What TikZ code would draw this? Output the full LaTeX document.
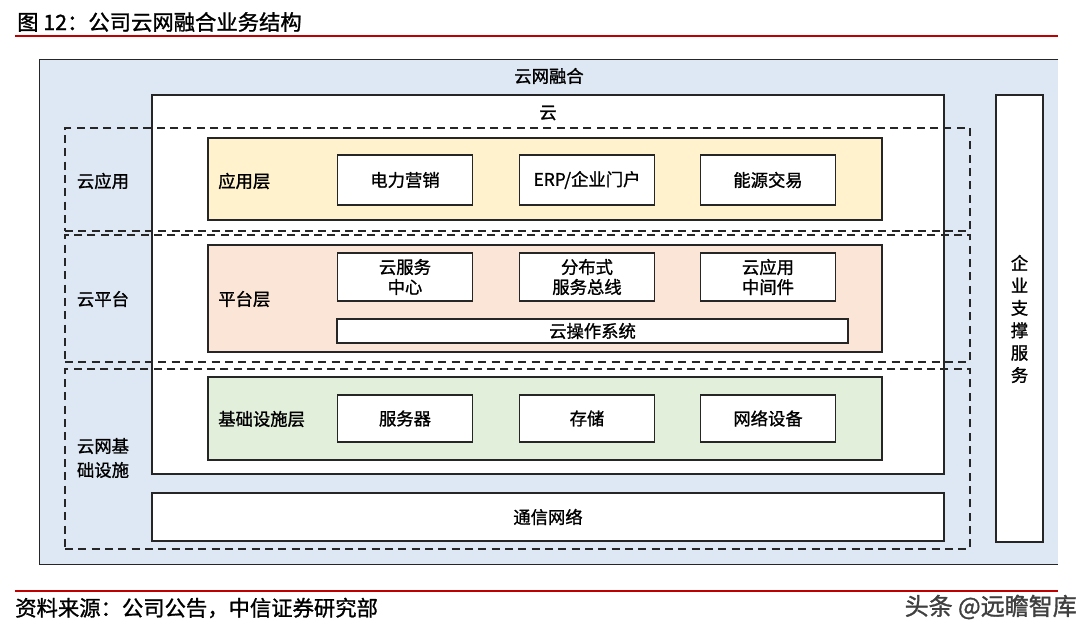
\documentclass[tikz,border=0pt]{standalone}
\usepackage{fontspec}
\newfontfamily\cjk[FakeBold=1.2]{Noto Sans CJK SC}
\definecolor{cloudblue}{HTML}{DEE8F4}
\definecolor{appyellow}{HTML}{FFF2CC}
\definecolor{platpeach}{HTML}{FBE5D6}
\definecolor{infragreen}{HTML}{E2EFDA}
\definecolor{linegray}{HTML}{262626}
\definecolor{titlered}{HTML}{C00000}
\begin{document}
\begin{tikzpicture}[x=0.75pt,y=-0.75pt]
    \tikzstyle{every node}=[inner sep=0pt,font=\cjk\fontsize{13}{15}\selectfont];
    \tikzstyle{frame}=[draw=linegray,line width=1.1pt];
    \tikzstyle{cell}=[frame,fill=white,minimum width=101.25pt];
    \tikzstyle{layer}=[frame,minimum width=505.5pt];
    \tikzstyle{zone}=[draw=linegray,line width=1.1pt,dash pattern=on 6pt off 4pt,minimum width=678.75pt];
    \tikzstyle{redline}=[draw=titlered,line width=1.6pt];
    \useasboundingbox (0,0) rectangle (1092,639);

    % title and rule
    \node at (17, 22) (title) [anchor=west,font=\cjk\fontsize{16}{18}\selectfont] {图 12：公司云网融合业务结构};
    \coordinate (tl) at (15, 36);
    \coordinate (tr) at (1058, 36);
    \draw[redline] (tl) -- (tr);

    % outer frame, open on the right
    \node at (549, 312) (outer) [fill=cloudblue,minimum width=763.5pt,minimum height=378pt] {};
    \draw[frame] (outer.north east) -- (outer.north west) -- (outer.south west) -- (outer.south east);
    \node at (549, 76) (net) {云网融合};

    % cloud
    \node at (548, 284.5) (cloud) [frame,fill=white,minimum width=594pt,minimum height=284.25pt] {};
    \node at (548, 113) (cloudtxt) {云};

    % dashed zones
    \node at (517.5, 179.5) (zapp)   [zone,minimum height=77.25pt] {};
    \node at (517.5, 298.5) (zplat)  [zone,minimum height=95.25pt] {};
    \node at (517.5, 459)   (zinfra) [zone,minimum height=135pt] {};
    \node at (103, 181) (lapp)   {云应用};
    \node at (103, 299) (lplat)  {云平台};
    \node at (103, 458) (linfra) [align=center,font=\cjk\fontsize{13}{18}\selectfont] {云网基\\础设施};

    % application layer
    \node at (545, 179) (app) [layer,fill=appyellow,minimum height=61.5pt] {};
    \node at (218, 181) (apptxt) [anchor=west] {应用层};
    \node at (405, 180) (a1) [cell,minimum height=37.5pt] {电力营销};
    \node at (587, 180) (a2) [cell,minimum height=37.5pt] {ERP/企业门户};
    \node at (768, 180) (a3) [cell,minimum height=37.5pt] {能源交易};

    % platform layer
    \node at (545, 298.5) (plat) [layer,fill=platpeach,minimum height=80.25pt] {};
    \node at (218, 299) (plattxt) [anchor=west] {平台层};
    \node at (405, 277) (p1) [cell,minimum height=36pt,align=center] {云服务\\中心};
    \node at (587, 277) (p2) [cell,minimum height=36pt,align=center] {分布式\\服务总线};
    \node at (768, 277) (p3) [cell,minimum height=36pt,align=center] {云应用\\中间件};
    \node at (592.5, 331) (os) [cell,minimum width=383.25pt,minimum height=18pt] {云操作系统};

    % infrastructure layer
    \node at (545, 418.5) (infra) [layer,fill=infragreen,minimum height=62.25pt] {};
    \node at (218, 419) (infratxt) [anchor=west] {基础设施层};
    \node at (405, 418.5) (i1) [cell,minimum height=35.25pt] {服务器};
    \node at (587, 418.5) (i2) [cell,minimum height=35.25pt] {存储};
    \node at (768, 418.5) (i3) [cell,minimum height=35.25pt] {网络设备};

    % communication network and support
    \node at (548, 517) (comm) [frame,fill=white,minimum width=594pt,minimum height=36pt] {通信网络};
    \node at (1019.5, 318.5) (support) [frame,fill=white,minimum width=35.25pt,minimum height=335.25pt] {};
    \node at (1019.5, 319) (supporttxt) [align=center,font=\cjk\fontsize{13}{16.8}\selectfont] {企\\业\\支\\撑\\服\\务};

    % source
    \coordinate (bl) at (15, 591);
    \coordinate (br) at (1058, 591);
    \draw[redline] (bl) -- (br);
    \node at (15, 608) (source) [anchor=west,font=\cjk\fontsize{16}{18}\selectfont] {资料来源：公司公告，中信证券研究部};
    \node at (1077, 607) (mark) [anchor=east,text=black!75,font=\cjk\fontsize{18}{20}\selectfont] {头条 @远瞻智库};
\end{tikzpicture}
\end{document}
